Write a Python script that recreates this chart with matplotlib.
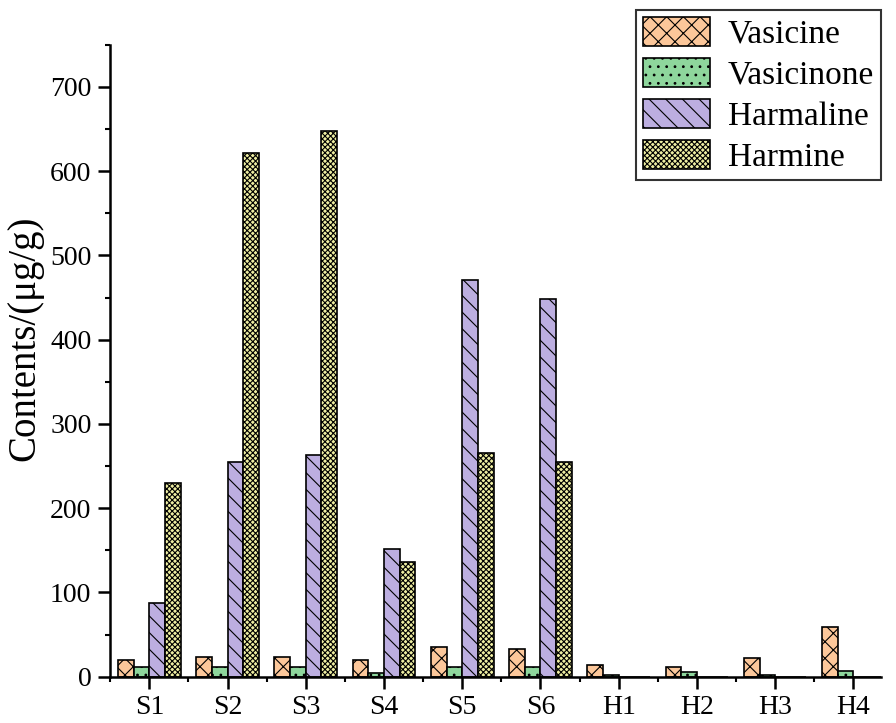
import numpy as np
import matplotlib.pyplot as plt
from matplotlib.ticker import MultipleLocator, FixedLocator

samples = ['S1', 'S2', 'S3', 'S4', 'S5', 'S6', 'H1', 'H2', 'H3', 'H4']
vasicine = [20, 24, 24, 20, 35, 33, 14, 12, 22, 59]
vasicinone = [11, 12, 12, 5, 12, 12, 2, 6, 2, 7]
harmaline = [87, 255, 263, 152, 471, 448, 0, 0, 0, 0]
harmine = [230, 622, 648, 136, 266, 255, 0, 0, 0, 0]

series = [
    ('Vasicine', vasicine, '#fcc79a', 'xx'),
    ('Vasicinone', vasicinone, '#8ed69c', '..'),
    ('Harmaline', harmaline, '#bcaee0', '\\\\'),
    ('Harmine', harmine, '#eeeea2', 'xxxxxx'),
]

plt.rcParams['font.family'] = ['Liberation Serif', 'DejaVu Serif']
plt.rcParams['hatch.linewidth'] = 0.8

fig = plt.figure(figsize=(8.96, 7.23), dpi=100)
ax = fig.add_axes([0.123, 0.064, 0.86, 0.874])

x = np.arange(1, len(samples) + 1)
w = 0.2
for i, (name, vals, color, hatch) in enumerate(series):
    ax.bar(x + (i - 1.5) * w, vals, w, color=color, edgecolor='black',
           linewidth=1.2, hatch=hatch, label=name)

ax.set_xlim(0.5, 10.35)
ax.set_ylim(0, 750)
ax.set_xticks(x)
ax.set_xticklabels(samples)
ax.xaxis.set_minor_locator(FixedLocator(np.arange(0.5, 10.6, 1)))
ax.yaxis.set_major_locator(FixedLocator([0, 100, 200, 300, 400, 500, 600, 700]))
ax.yaxis.set_minor_locator(MultipleLocator(50))
ax.tick_params(which='major', length=8.5, width=1.8)
ax.tick_params(which='minor', length=3.5, width=1.5)
ax.tick_params(axis='y', labelsize=20, pad=5)
ax.tick_params(axis='x', labelsize=20, pad=5)

for s in ['top', 'right']:
    ax.spines[s].set_visible(False)
for s in ['left', 'bottom']:
    ax.spines[s].set_linewidth(1.8)

ax.set_ylabel('Contents/(μg/g)', fontsize=28)
ax.yaxis.set_label_coords(-0.087, 0.536)

leg = fig.legend(loc='upper right', bbox_to_anchor=(0.983, 0.986), fontsize=24,
                 frameon=True, fancybox=False, edgecolor='black',
                 handlelength=2.0, handleheight=0.95, labelspacing=0.25,
                 handletextpad=0.55, borderpad=0.2, borderaxespad=0)
leg.get_frame().set_linewidth(1.5)

fig.savefig('out.png', dpi=100)
